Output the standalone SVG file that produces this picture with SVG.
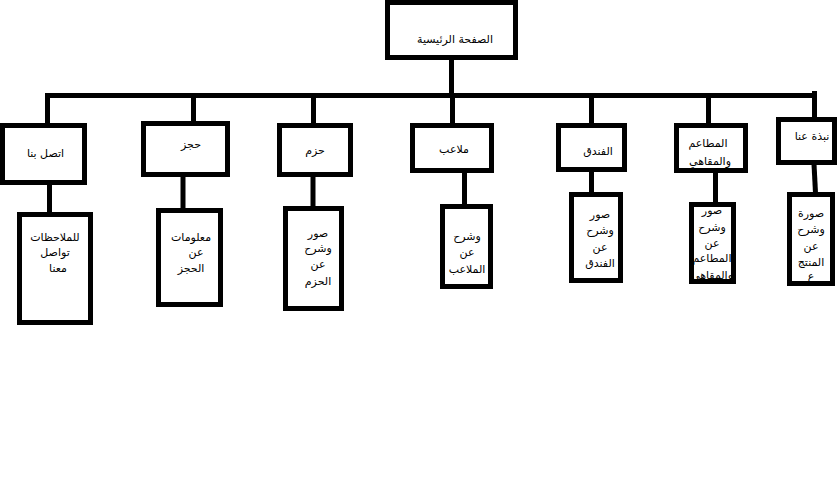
<svg xmlns="http://www.w3.org/2000/svg" width="840" height="481" viewBox="0 0 840 481">
<style>
.box{fill:#fff;stroke:#000;stroke-width:5}
.ln{stroke:#000;stroke-width:5;fill:none}
text{font-family:"DejaVu Sans","Liberation Sans",sans-serif;font-size:11px;fill:#000;text-anchor:middle;direction:rtl}
</style>
<rect width="840" height="481" fill="#fff"/>
<g id="connectors">
<line class="ln" x1="451.5" y1="58" x2="451.5" y2="96"/>
<line class="ln" x1="45" y1="95.5" x2="817" y2="95.5"/>
<line class="ln" x1="47.5" y1="93" x2="47.5" y2="124"/>
<line class="ln" x1="193.5" y1="96" x2="193.5" y2="122"/>
<line class="ln" x1="313.5" y1="96" x2="313.5" y2="124"/>
<line class="ln" x1="452.5" y1="96" x2="452.5" y2="124"/>
<line class="ln" x1="591.5" y1="96" x2="591.5" y2="124"/>
<line class="ln" x1="708.5" y1="96" x2="708.5" y2="124"/>
<line class="ln" x1="814.5" y1="91" x2="814.5" y2="118"/>
<line class="ln" x1="49.5" y1="184" x2="49.5" y2="213"/>
<line class="ln" x1="183" y1="176" x2="183" y2="209"/>
<line class="ln" x1="313" y1="176" x2="313" y2="207"/>
<line class="ln" x1="464.5" y1="172" x2="464.5" y2="205"/>
<line class="ln" x1="591.5" y1="171" x2="591.5" y2="193"/>
<line class="ln" x1="715.5" y1="172" x2="715.5" y2="203"/>
<line class="ln" x1="814" y1="164" x2="815.5" y2="193"/>
</g>
<g id="home"><rect class="box" x="387.5" y="2.5" width="128" height="55"/><text x="455" y="43">الصفحة الرئيسية</text></g>
<g id="contact"><rect class="box" x="2.5" y="125.5" width="82" height="57"/><text x="45.5" y="157">اتصل بنا</text></g>
<g id="booking"><rect class="box" x="143.5" y="123.5" width="84" height="51"/><text x="191" y="148">حجز</text></g>
<g id="packages"><rect class="box" x="279.5" y="125.5" width="71" height="49"/><text x="315" y="154">حزم</text></g>
<g id="courts"><rect class="box" x="412.5" y="125.5" width="79" height="45"/><text x="454" y="153">ملاعب</text></g>
<g id="hotel"><rect class="box" x="558.5" y="125.5" width="66" height="44"/><text x="598" y="155">الفندق</text></g>
<g id="restaurants"><rect class="box" x="676.5" y="125.5" width="69" height="45"/><text x="708" y="147">المطاعم</text><text x="710" y="165">والمقاهي</text></g>
<g id="about"><rect class="box" x="778.5" y="119.5" width="56" height="43"/><text x="812" y="140">نبذة عنا</text></g>
<g id="contact-detail"><rect class="box" x="19.5" y="214.5" width="71" height="108"/><text x="55" y="241">للملاحظات</text><text x="55" y="256">تواصل</text><text x="58" y="272">معنا</text></g>
<g id="booking-detail"><rect class="box" x="158.5" y="210.5" width="62" height="94"/><text x="191" y="241">معلومات</text><text x="196" y="256">عن</text><text x="191" y="272">الحجز</text></g>
<g id="packages-detail"><rect class="box" x="285.5" y="208.5" width="56" height="100"/><text x="318" y="237">صور</text><text x="318" y="252">وشرح</text><text x="318" y="268">عن</text><text x="318" y="285">الحزم</text></g>
<g id="courts-detail"><rect class="box" x="442.5" y="206.5" width="48" height="80"/><text x="467" y="240">وشرح</text><text x="467" y="256">عن</text><text x="467" y="273">الملاعب</text></g>
<g id="hotel-detail"><rect class="box" x="571.5" y="194.5" width="49" height="86"/><text x="600" y="218">صور</text><text x="600" y="234">وشرح</text><text x="600" y="251">عن</text><text x="600" y="267">الفندق</text></g>
<g id="restaurants-detail"><rect class="box" x="691.5" y="204.5" width="42" height="77"/><text x="712" y="214">صور</text><text x="712" y="231">وشرح</text><text x="712" y="247">عن</text><text x="712" y="262">المطاعم</text><text x="712" y="279">والمقاهي</text></g>
<g id="resort-detail"><rect class="box" x="789.5" y="194.5" width="43" height="89"/><text x="811" y="217">صورة</text><text x="811" y="233">وشرح</text><text x="811" y="250">عن</text><text x="811" y="266">المنتج</text><text x="811" y="280">ع</text></g>
</svg>
